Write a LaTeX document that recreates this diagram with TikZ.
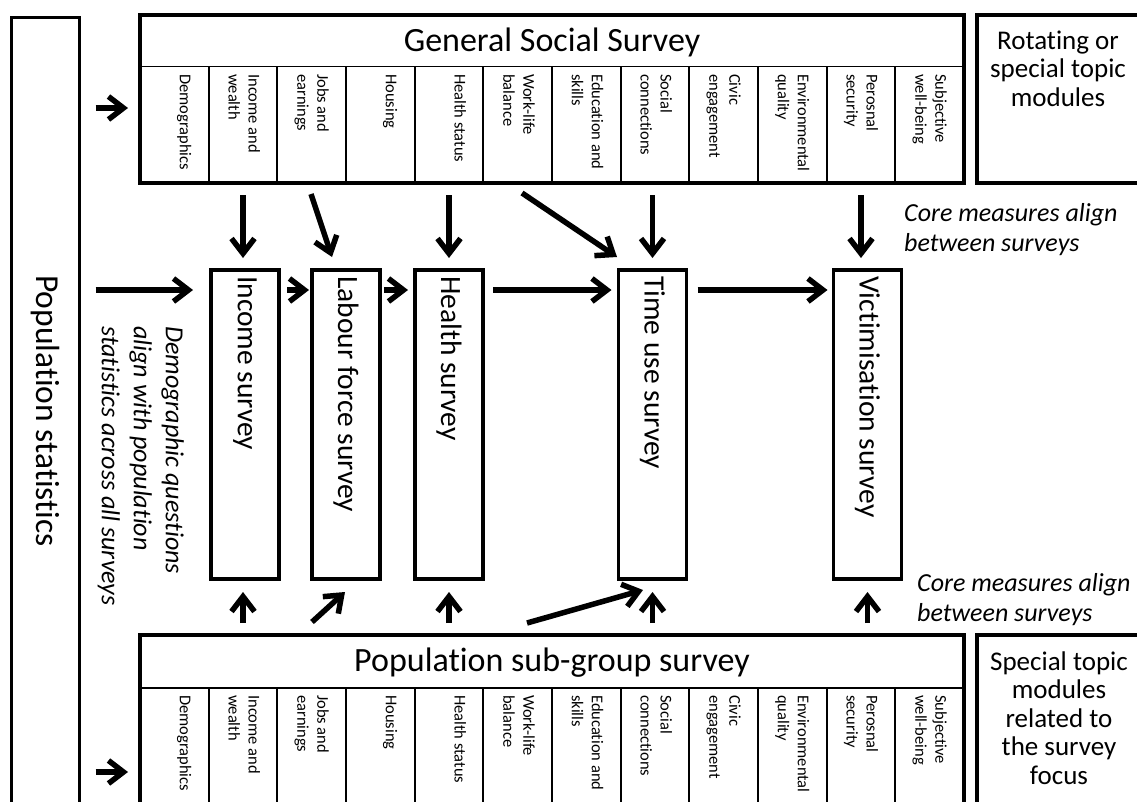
\documentclass[tikz,border=0pt]{standalone}
\usepackage{fontspec}
\setmainfont{Carlito}[Ligatures=NoCommon]
\usetikzlibrary{arrows.meta,calc}
\begin{document}
\begin{tikzpicture}[x=1pt,y=-1pt,
  thickbox/.style={draw, line width=3.5pt, inner sep=0pt, outer sep=0pt},
  thinline/.style={line width=1.8pt},
  coltext/.style={rotate=-90, anchor=north west, align=left, inner sep=0pt, font=\fontsize{16.5}{20}\selectfont},
  arr/.style={line width=5.5pt, -{Straight Barb[length=15pt,width=23pt]}},
  title/.style={font=\fontsize{34}{40}\selectfont, anchor=base, inner sep=0pt},
  survtext/.style={rotate=-90, anchor=west, inner sep=0pt, font=\fontsize{29.5}{36}\selectfont},
  note/.style={font=\fontsize{26}{31}\selectfont\itshape, align=left, inner sep=0pt},
  side/.style={font=\fontsize{27}{28.5}\selectfont, align=center, inner sep=0pt, anchor=north}]
\useasboundingbox (0,0) rectangle (1137,801);
\clip (0,0) rectangle (1137,801);
\fill[white] (0,0) rectangle (1137,801);

% population statistics
\node[thickbox, minimum width=68pt, minimum height=900pt, anchor=north west] (pop) at (11.5,17.5) {};
\node[rotate=-90, inner sep=0pt, font=\fontsize{33.5}{40}\selectfont] (popt) at (45.5,411) {Population statistics};

% General social survey
\node[thickbox, line width=4pt, minimum width=824pt, minimum height=168pt, anchor=north west] (gss) at (140,15) {};
\draw[thinline] ($(gss.north west)+(0,51.5)$) -- ($(gss.north east)+(0,51.5)$);
\foreach \i in {1,...,11}
  \draw[thinline] ($(gss.north west)+(68.667*\i,51.5)$) -- ($(gss.south west)+(68.667*\i,0)$);
\node[title] (gsst) at (552,51) {General Social Survey};
\foreach \i/\t in {1/Demographics, 2/{Income and\\wealth}, 3/{Jobs and\\earnings}, 4/Housing, 5/{Health status}, 6/{Work-life\\balance}, 7/{Education and\\skills}, 8/{Social\\connections}, 9/{Civic\\engagement}, 10/{Environmental\\quality}, 11/{Perosnal\\security}, 12/{Subjective\\well-being}}
{
  \node[coltext] (gsc\i) at ($(gss.north west)+(68.667*\i-14.5,59)$) {\strut\t};
  \coordinate (gb\i) at ($(gss.south west)+(68.667*\i-34.333,0)$);
}

% rotating modules
\node[thickbox, line width=4pt, minimum width=240pt, minimum height=168pt, anchor=north west] (rot) at (976.5,15) {};
\node[side] (rott) at (1058,29) {\strut Rotating or\\special topic\\modules};

% population sub-group survey
\node[thickbox, line width=4pt, minimum width=824pt, minimum height=300pt, anchor=north west] (psg) at (140,635) {};
\draw[thinline] ($(psg.north west)+(0,53)$) -- ($(psg.north east)+(0,53)$);
\foreach \i in {1,...,11}
  \draw[thinline] ($(psg.north west)+(68.667*\i,53)$) -- ($(psg.south west)+(68.667*\i,0)$);
\node[title] (psgt) at (552,671.5) {Population sub-group survey};
\foreach \i/\t in {1/Demographics, 2/{Income and\\wealth}, 3/{Jobs and\\earnings}, 4/Housing, 5/{Health status}, 6/{Work-life\\balance}, 7/{Education and\\skills}, 8/{Social\\connections}, 9/{Civic\\engagement}, 10/{Environmental\\quality}, 11/{Perosnal\\security}, 12/{Subjective\\well-being}}
{
  \node[coltext] (psc\i) at ($(psg.north west)+(68.667*\i-14.5,60)$) {\strut\t};
  \coordinate (pb\i) at ($(psg.north west)+(68.667*\i-34.333,0)$);
}

% special topic modules
\node[thickbox, line width=4pt, minimum width=240pt, minimum height=300pt, anchor=north west] (spec) at (976.5,635) {};
\node[side] (spect) at (1059,650) {\strut Special topic\\modules\\related to\\the survey\\focus};

% surveys
\node[thickbox, minimum width=68pt, minimum height=309pt] (inc) at (245,424.5) {};
\node[thickbox, minimum width=68pt, minimum height=309pt] (lab) at (346,424.5) {};
\node[thickbox, minimum width=68pt, minimum height=309pt] (hea) at (449,424.5) {};
\node[thickbox, minimum width=68pt, minimum height=309pt] (tim) at (652.5,424.5) {};
\node[thickbox, minimum width=68pt, minimum height=309pt] (vic) at (867.5,424.5) {};
\node[survtext] (inct) at ($(inc.north)+(0,6)$) {Income survey};
\node[survtext] (labt) at ($(lab.north)+(0,6)$) {Labour force survey};
\node[survtext] (heat) at ($(hea.north)+(0,6)$) {Health survey};
\node[survtext] (timt) at ($(tim.north)+(0,6)$) {Time use survey};
\node[survtext] (vict) at ($(vic.north)+(0,6)$) {Victimisation survey};

% notes
\node[note, rotate=-90, anchor=north west, font=\fontsize{26}{32}\selectfont\itshape] (demnote) at (188.5,326) {\strut Demographic questions\\align with population\\statistics across all surveys};
\node[note, anchor=north west, font=\fontsize{26}{30}\selectfont\itshape] (core1) at (904,200) {\strut Core measures align\\between surveys};
\node[note, anchor=north west, font=\fontsize{26}{30}\selectfont\itshape] (core2) at (917,570) {\strut Core measures align\\between surveys};

% arrows: left
\coordinate (gy) at (0,108);
\coordinate (py) at (0,772);
\coordinate (hy) at (0,290);
\draw[arr, shorten <=16pt, shorten >=12pt] (pop.east |- gy) -- (gss.west |- gy);
\draw[arr, shorten <=16pt, shorten >=12pt] (pop.east |- py) -- (psg.west |- py);

% horizontal chain
\draw[arr, shorten <=16pt, shorten >=18pt] (pop.east |- hy) -- (inc.west |- hy);
\draw[arr, shorten <=8pt, shorten >=3pt] (inc.east |- hy) -- (lab.west |- hy);
\draw[arr, shorten <=4pt, shorten >=7pt] (lab.east |- hy) -- (hea.west |- hy);
\draw[arr, shorten <=10pt, shorten >=7pt] (hea.east |- hy) -- (tim.west |- hy);
\draw[arr, shorten <=11pt, shorten >=6pt] (tim.east |- hy) -- (vic.west |- hy);

% down from GSS
\draw[arr, shorten <=12pt, shorten >=12pt] (gb2) -- (gb2 |- inc.north);
\draw[arr, shorten <=12pt, shorten >=12pt] (hea.north |- gss.south) -- (hea.north);
\draw[arr, shorten <=12pt, shorten >=12pt] (tim.north |- gss.south) -- (tim.north);
\draw[arr, shorten <=12pt, shorten >=12pt] (gb11) -- (gb11 |- vic.north);
\coordinate (d1s) at (311,194); \coordinate (d1e) at (332,257);
\coordinate (d2s) at (522,193); \coordinate (d2e) at (617,257);
\draw[arr] (d1s) -- (d1e);
\draw[arr] (d2s) -- (d2e);

% up from sub-group survey
\draw[arr, shorten <=12pt, shorten >=13pt] (pb2) -- (pb2 |- inc.south);
\draw[arr, shorten <=12pt, shorten >=13pt] (hea.south |- psg.north) -- (hea.south);
\draw[arr, shorten <=12pt, shorten >=13pt] (tim.south |- psg.north) -- (tim.south);
\draw[arr, shorten <=12pt, shorten >=13pt] (vic.south |- psg.north) -- (vic.south);
\coordinate (d3s) at (312,622); \coordinate (d3e) at (345,592);
\coordinate (d4s) at (527,623); \coordinate (d4e) at (643,590);
\draw[arr] (d3s) -- (d3e);
\draw[arr] (d4s) -- (d4e);
\end{tikzpicture}
\end{document}
